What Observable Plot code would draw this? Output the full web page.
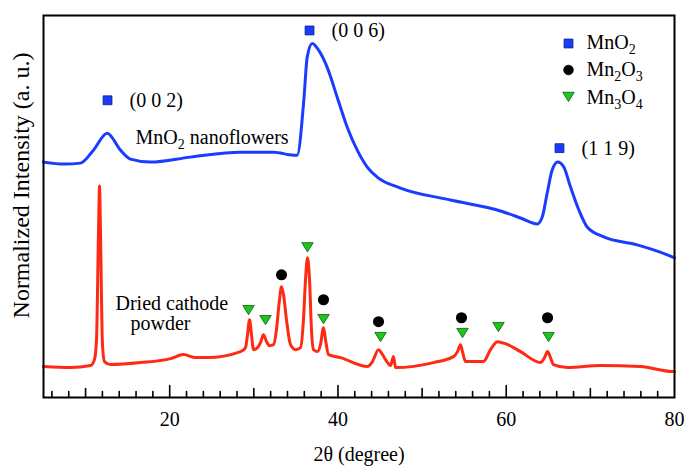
<!DOCTYPE html>
<html><head><meta charset="utf-8">
<script src="https://cdn.jsdelivr.net/npm/d3@7"></script>
<script src="https://cdn.jsdelivr.net/npm/@observablehq/plot@0.6"></script>
<style>
body{margin:0;background:#fff}
svg, svg text { font-family: "Liberation Serif", "Times New Roman", serif !important; }
</style>
</head><body><div id="chart"></div>
<script>
// MnO2 nanoflowers pattern (2θ in degrees, intensity a.u.)
const mnO2Angle = [5.0, 7.5, 9.4, 10.94, 12.57, 14.15, 15.34, 17.72, 22.47, 28.42, 32.34, 34.72, 35.15, 35.94, 36.34, 36.94, 37.72, 38.72, 39.91, 41.10, 42.29, 43.48, 44.66, 47.43, 53.38, 59.32, 61.70, 63.68, 64.28, 64.87, 65.46, 66.13, 66.84, 67.64, 68.63, 69.62, 71.60, 75.57, 79.73, 80.0];
const mnO2Intensity = [236, 234, 235, 248, 265, 248, 239, 236, 241, 246, 246, 243, 243, 298, 341, 355, 348, 331, 301, 271, 248, 231, 221, 210, 198, 187, 180, 174, 181, 205, 228, 236, 231, 211, 188, 171, 161, 153, 141, 140];
// Dried cathode powder pattern
const cathodeAngle = [5.0, 8.21, 10.59, 11.06, 11.30, 11.54, 11.66, 11.77, 12.01, 12.25, 12.96, 16.53, 20.10, 21.64, 23.07, 24.49, 28.42, 29.01, 29.25, 29.49, 29.72, 29.96, 30.44, 30.79, 31.15, 31.51, 31.86, 32.34, 32.69, 33.05, 33.29, 33.53, 33.88, 34.36, 34.95, 35.55, 35.90, 36.14, 36.38, 36.62, 36.85, 37.09, 37.57, 37.92, 38.28, 38.52, 38.88, 40.30, 43.51, 44.10, 44.82, 45.29, 45.89, 46.24, 46.60, 46.84, 51.36, 53.73, 54.21, 54.56, 54.80, 55.16, 57.30, 58.13, 58.96, 59.91, 61.70, 64.07, 64.55, 64.91, 65.26, 65.62, 67.28, 71.21, 75.96, 79.76, 80.0];
const cathodeIntensity = [31, 30, 32, 38, 58, 168, 212, 168, 53, 36, 33, 35, 39, 43, 40, 40, 46, 50, 63, 78, 63, 48, 50, 55, 63, 56, 52, 53, 68, 98, 111, 103, 78, 53, 48, 50, 78, 118, 140, 118, 68, 48, 46, 53, 70, 58, 43, 40, 31, 36, 48, 43, 35, 32, 41, 30, 35, 41, 46, 53, 46, 36, 36, 48, 56, 54, 46, 35, 40, 46, 40, 33, 30, 32, 31, 26, 26];

// phase markers
const mnO2PeakAngle = [12.61, 36.62, 66.33];
const mnO2PeakIntensity = [298, 368, 250];
const mnO2PeakLabels = ["(0 0 2)", "(0 0 6)", "(1 1 9)"];
const mn2O3Angle = [33.29, 38.28, 44.82, 54.68, 64.91];
const mn2O3Intensity = [123, 98, 76, 80, 80];
const mn3O4Angle = [29.37, 31.39, 36.38, 38.28, 45.06, 54.80, 59.08, 65.03];
const mn3O4Intensity = [88, 78, 151, 79, 61, 65, 71, 61];

// sample labels
const sampleLabels = ["MnO_2 nanoflowers", "Dried cathode", "powder"];
const sampleLabelAngle = [15.94, 13.56, 15.34];
const sampleLabelIntensity = [261, 94, 74];

// axis ticks
const xTickLabels = [20, 40, 60, 80];
const xMajorTicks = [20, 40, 60];
const xMediumTicks = [10, 30, 50, 70];
const xMinorTicks = d3.range(6, 80, 2).filter(d => d % 10 !== 0);

const legendLabels = ["MnO_2", "Mn_2O_3", "Mn_3O_4"];

const blue = "#1a3cff", red = "#ff2a14", green = "#1fc41f";
const serif = "Liberation Serif, Times New Roman, serif";

const zip = (a, b) => a.map((v, i) => ({x: v, y: b[i]}));
const mnO2 = zip(mnO2Angle, mnO2Intensity);
const cathode = zip(cathodeAngle, cathodeIntensity);
const peaks = mnO2PeakAngle.map((x, i) => ({x, y: mnO2PeakIntensity[i], label: mnO2PeakLabels[i]}));
const mn2O3 = zip(mn2O3Angle, mn2O3Intensity);
const mn3O4 = zip(mn3O4Angle, mn3O4Intensity);
const samples = sampleLabels.map((label, i) => ({label, x: sampleLabelAngle[i], y: sampleLabelIntensity[i]}));

const triangleDown = {
  draw(ctx, size) {
    const r = Math.sqrt(size / Math.PI);
    ctx.moveTo(-r * 1.15, -r * 0.85);
    ctx.lineTo(r * 1.15, -r * 0.85);
    ctx.lineTo(0, r * 1.0);
    ctx.closePath();
  }
};
const tickLine = (ticks, len) => Plot.vectorX(ticks, {x: d => d, frameAnchor: "bottom", length: len, anchor: "start", shape: "spike", r: 0, stroke: "black", strokeWidth: 1.6, fill: "none"});

const legendSymbols = [
  {symbol: "square", r: 5, fill: blue, stroke: "#0a1a80"},
  {symbol: "circle", r: 4.8, fill: "black", stroke: "black"},
  {symbol: triangleDown, r: 5, fill: green, stroke: "#0b5e0b"}
];

const legendMarks = legendLabels.flatMap((label, i) => [
  Plot.dot([label], {frameAnchor: "top-right", dx: -106, dy: 28 + i * 26.5, symbol: legendSymbols[i].symbol, r: legendSymbols[i].r, fill: legendSymbols[i].fill, stroke: legendSymbols[i].stroke, strokeWidth: 0.8}),
  Plot.text([label], {frameAnchor: "top-right", dx: -88, dy: 27 + i * 27.5, text: d => d, textAnchor: "start", lineAnchor: "middle", fill: "black", fontFamily: serif, fontSize: 20})
]);

const svg = Plot.plot({
  width: 685,
  height: 466,
  marginLeft: 43,
  marginRight: 11,
  marginTop: 15,
  marginBottom: 69,
  style: {fontFamily: serif, fontSize: "20px", background: "white", color: "black"},
  x: {domain: [5, 80], label: null},
  y: {domain: [0, 383], label: null, axis: null},
  marks: [
    Plot.line(mnO2, {x: "x", y: "y", stroke: blue, strokeWidth: 3, curve: "monotone-x"}),
    Plot.line(cathode, {x: "x", y: "y", stroke: red, strokeWidth: 3, curve: "monotone-x"}),
    Plot.dot(peaks, {x: "x", y: "y", symbol: "square", r: 5, fill: blue, stroke: "#0a1a80", strokeWidth: 0.8}),
    Plot.text(peaks, {x: "x", y: "y", text: "label", dx: 22, textAnchor: "start", fill: "black", fontFamily: serif, fontSize: 20}),
    Plot.dot(mn2O3, {x: "x", y: "y", symbol: "circle", r: 4.8, fill: "black", stroke: "black"}),
    Plot.dot(mn3O4, {x: "x", y: "y", symbol: triangleDown, r: 5, fill: green, stroke: "#0b5e0b", strokeWidth: 0.8}),
    Plot.text(samples, {x: "x", y: "y", text: "label", textAnchor: "start", fill: "black", fontFamily: serif, fontSize: 20}),
    ...legendMarks,
    tickLine(xMinorTicks, 6),
    tickLine(xMediumTicks, 9),
    tickLine(xMajorTicks, 12),
    Plot.axisX({ticks: xTickLabels, tickSize: 0, tickPadding: 14, tickFormat: d => String(d), fontSize: 20, fontFamily: serif}),
    Plot.text(["2θ (degree)"], {frameAnchor: "bottom", dy: 57, lineAnchor: "middle", textAnchor: "middle", text: d => d, fill: "black", fontFamily: serif, fontSize: 20}),
    Plot.text(["Normalized Intensity (a. u.)"], {frameAnchor: "left", dx: -22, dy: -21, rotate: -90, textAnchor: "middle", lineAnchor: "middle", text: d => d, fontSize: 24, fontFamily: serif, fill: "black"}),
    Plot.frame({stroke: "black", strokeWidth: 2})
  ]
});

// render "_n" as subscripts
d3.select(svg).selectAll("text").each(function() {
  const el = this;
  if (el.children.length || !el.textContent.includes("_")) return;
  const parts = el.textContent.split(/_(\d)/);
  el.textContent = "";
  parts.forEach((p, i) => {
    if (p === "") return;
    const ts = document.createElementNS("http://www.w3.org/2000/svg", "tspan");
    if (i % 2 === 1) { ts.setAttribute("font-size", "14"); ts.setAttribute("dy", "5"); }
    else if (i > 0) { ts.setAttribute("dy", "-5"); }
    ts.textContent = p;
    el.appendChild(ts);
  });
});

document.getElementById("chart").appendChild(svg);
</script>
</body></html>
